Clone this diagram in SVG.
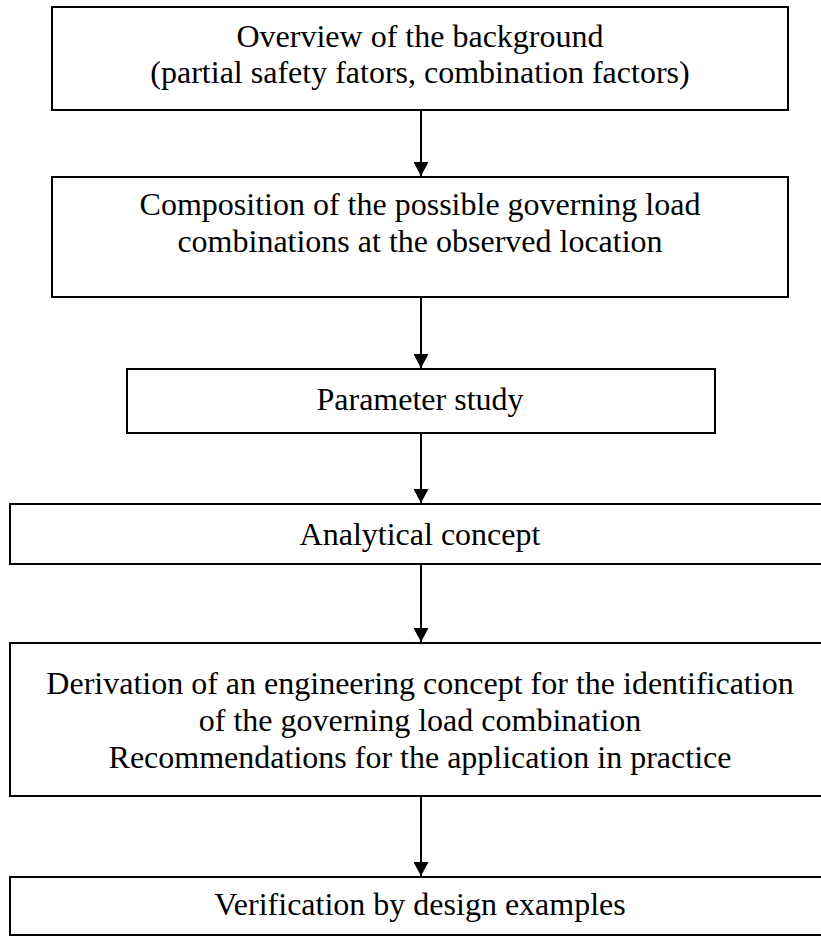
<svg xmlns="http://www.w3.org/2000/svg" width="821" height="936" viewBox="0 0 821 936">
<defs>
<style>
.box{fill:#fff;stroke:#000;stroke-width:2}
.t{font-family:"Liberation Serif","Times New Roman",serif;font-size:32px;fill:#000;text-anchor:middle}
.c{stroke:#000;stroke-width:2;fill:none}
</style>
<marker id="ah" viewBox="0 0 14 15" refX="14" refY="7.5" markerWidth="14" markerHeight="15" markerUnits="userSpaceOnUse" orient="auto">
<path d="M0,0 L14,7.5 L0,15 Z" fill="#000"/>
</marker>
</defs>
<rect width="821" height="936" fill="#fff"/>
<g id="n1">
<rect class="box" x="52" y="7" width="736" height="103"/>
<text class="t" x="420" y="47">Overview of the background</text>
<text class="t" x="420" y="83">(partial safety fators, combination factors)</text>
</g>
<g id="n2">
<rect class="box" x="52" y="177" width="736" height="120"/>
<text class="t" x="420" y="215">Composition of the possible governing load</text>
<text class="t" x="420" y="252">combinations at the observed location</text>
</g>
<g id="n3">
<rect class="box" x="127" y="369" width="588" height="64"/>
<text class="t" x="420" y="410">Parameter study</text>
</g>
<g id="n4">
<rect class="box" x="10" y="504" width="820" height="60"/>
<text class="t" x="420" y="545">Analytical concept</text>
</g>
<g id="n5">
<rect class="box" x="10" y="643" width="820" height="153"/>
<text class="t" x="420" y="694">Derivation of an engineering concept for the identification</text>
<text class="t" x="420" y="731">of the governing load combination</text>
<text class="t" x="420" y="768">Recommendations for the application in practice</text>
</g>
<g id="n6">
<rect class="box" x="10" y="877" width="820" height="58"/>
<text class="t" x="420" y="915">Verification by design examples</text>
</g>
<g id="connectors">
<line class="c" x1="421" y1="110" x2="421" y2="176" marker-end="url(#ah)"/>
<line class="c" x1="421" y1="297" x2="421" y2="368" marker-end="url(#ah)"/>
<line class="c" x1="421" y1="433" x2="421" y2="503" marker-end="url(#ah)"/>
<line class="c" x1="421" y1="564" x2="421" y2="642" marker-end="url(#ah)"/>
<line class="c" x1="421" y1="796" x2="421" y2="876" marker-end="url(#ah)"/>
</g>
</svg>
